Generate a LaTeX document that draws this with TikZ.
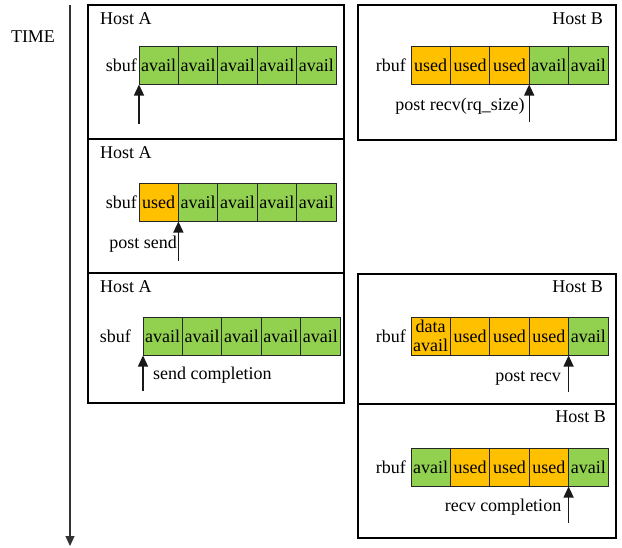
\documentclass[tikz,border=0pt]{standalone}
\usepackage{fontspec}
\setmainfont{Liberation Serif}
\usetikzlibrary{arrows.meta}
\definecolor{cgreen}{HTML}{92D050}
\definecolor{corange}{HTML}{FFC000}
\tikzset{
  txt/.style={font=\fontsize{18}{19}\selectfont, inner sep=0pt},
  cell/.style={txt, draw=black!85, line width=1pt, outer sep=0pt, minimum width=39.4pt, minimum height=38.5pt, anchor=north west},
  av/.style={cell, fill=cgreen},
  us/.style={cell, fill=corange},
  hostbox/.style={draw=black, line width=1.2pt, outer sep=0pt, anchor=north west, inner sep=0pt},
  ptr/.style={line width=1.3pt, draw=black!90, -{Triangle[length=11pt,width=10pt]}},
}
\begin{document}
\begin{tikzpicture}[x=1pt,y=-1pt]
\useasboundingbox (0,0) rectangle (622,547);
% time axis
\node[txt] (time) at (33,37) {TIME};
\coordinate (t0) at (70,5);
\coordinate (t1) at (70,546);
\draw[line width=1.2pt, black!80, -{Triangle[length=10pt,width=9pt]}] (t0) -- (t1);

% host boxes
\node[hostbox, minimum width=256pt, minimum height=134pt] (A1) at (88,5) {};
\node[hostbox, minimum width=256pt, minimum height=134pt] (A2) at (88,139) {};
\node[hostbox, minimum width=256pt, minimum height=130pt] (A3) at (88,273) {};
\node[hostbox, minimum width=258pt, minimum height=135pt] (B1) at (358,5) {};
\node[hostbox, minimum width=258pt, minimum height=130pt] (B2) at (358,274) {};
\node[hostbox, minimum width=258pt, minimum height=134pt] (B3) at (358,404) {};

\node[txt, anchor=west] (hA1) at (100,19) {Host A};
\node[txt, anchor=west] (hA2) at (100,153) {Host A};
\node[txt, anchor=west] (hA3) at (100,287) {Host A};
\node[txt, anchor=east] (hB1) at (603,19) {Host B};
\node[txt, anchor=east] (hB2) at (603,287) {Host B};
\node[txt, anchor=east] (hB3) at (606,417) {Host B};

% A1
\node[av] (a1c1) at (139,46) {avail};
\node[av, anchor=west] (a1c2) at (a1c1.east) {avail};
\node[av, anchor=west] (a1c3) at (a1c2.east) {avail};
\node[av, anchor=west] (a1c4) at (a1c3.east) {avail};
\node[av, anchor=west] (a1c5) at (a1c4.east) {avail};
\node[txt, anchor=east] (a1l) at ([xshift=-2pt]a1c1.west) {sbuf};
\coordinate (a1p) at ([yshift=-39pt]a1c1.south west);
\draw[ptr] (a1p) -- (a1c1.south west);

% A2
\node[us] (a2c1) at (139,183) {used};
\node[av, anchor=west] (a2c2) at (a2c1.east) {avail};
\node[av, anchor=west] (a2c3) at (a2c2.east) {avail};
\node[av, anchor=west] (a2c4) at (a2c3.east) {avail};
\node[av, anchor=west] (a2c5) at (a2c4.east) {avail};
\node[txt, anchor=east] (a2l) at ([xshift=-2pt]a2c1.west) {sbuf};
\coordinate (a2p) at ([yshift=-39pt]a2c1.south east);
\draw[ptr] (a2p) -- (a2c1.south east);
\node[txt, anchor=east] (a2t) at (177,244) {post send};

% A3
\node[av] (a3c1) at (143,317) {avail};
\node[av, anchor=west] (a3c2) at (a3c1.east) {avail};
\node[av, anchor=west] (a3c3) at (a3c2.east) {avail};
\node[av, anchor=west] (a3c4) at (a3c3.east) {avail};
\node[av, anchor=west] (a3c5) at (a3c4.east) {avail};
\node[txt, anchor=east] (a3l) at (131,336) {sbuf};
\coordinate (a3p) at ([yshift=-35pt]a3c1.south west);
\draw[ptr] (a3p) -- (a3c1.south west);
\node[txt, anchor=west] (a3t) at (153,375) {send completion};

% B1
\node[us] (b1c1) at (411,46) {used};
\node[us, anchor=west] (b1c2) at (b1c1.east) {used};
\node[us, anchor=west] (b1c3) at (b1c2.east) {used};
\node[av, anchor=west] (b1c4) at (b1c3.east) {avail};
\node[av, anchor=west] (b1c5) at (b1c4.east) {avail};
\node[txt, anchor=east] (b1l) at ([xshift=-5pt]b1c1.west) {rbuf};
\coordinate (b1p) at ([yshift=-37pt]b1c3.south east);
\draw[ptr] (b1p) -- (b1c3.south east);
\node[txt] (b1t) at (460,106) {post recv(rq\_size)};

% B2
\node[us, align=center, font=\fontsize{18}{19}\selectfont] (b2c1) at (411,317) {data\\avail};
\node[us, anchor=west] (b2c2) at (b2c1.east) {used};
\node[us, anchor=west] (b2c3) at (b2c2.east) {used};
\node[us, anchor=west] (b2c4) at (b2c3.east) {used};
\node[av, anchor=west] (b2c5) at (b2c4.east) {avail};
\node[txt, anchor=east] (b2l) at ([xshift=-5pt]b2c1.west) {rbuf};
\coordinate (b2p) at ([yshift=-36pt]b2c4.south east);
\draw[ptr] (b2p) -- (b2c4.south east);
\node[txt, anchor=east] (b2t) at (561,378) {post recv};

% B3
\node[av] (b3c1) at (411,448) {avail};
\node[us, anchor=west] (b3c2) at (b3c1.east) {used};
\node[us, anchor=west] (b3c3) at (b3c2.east) {used};
\node[us, anchor=west] (b3c4) at (b3c3.east) {used};
\node[av, anchor=west] (b3c5) at (b3c4.east) {avail};
\node[txt, anchor=east] (b3l) at ([xshift=-5pt]b3c1.west) {rbuf};
\coordinate (b3p) at ([yshift=-36pt]b3c4.south east);
\draw[ptr] (b3p) -- (b3c4.south east);
\node[txt] (b3t) at (503,507) {recv completion};
\end{tikzpicture}
\end{document}
